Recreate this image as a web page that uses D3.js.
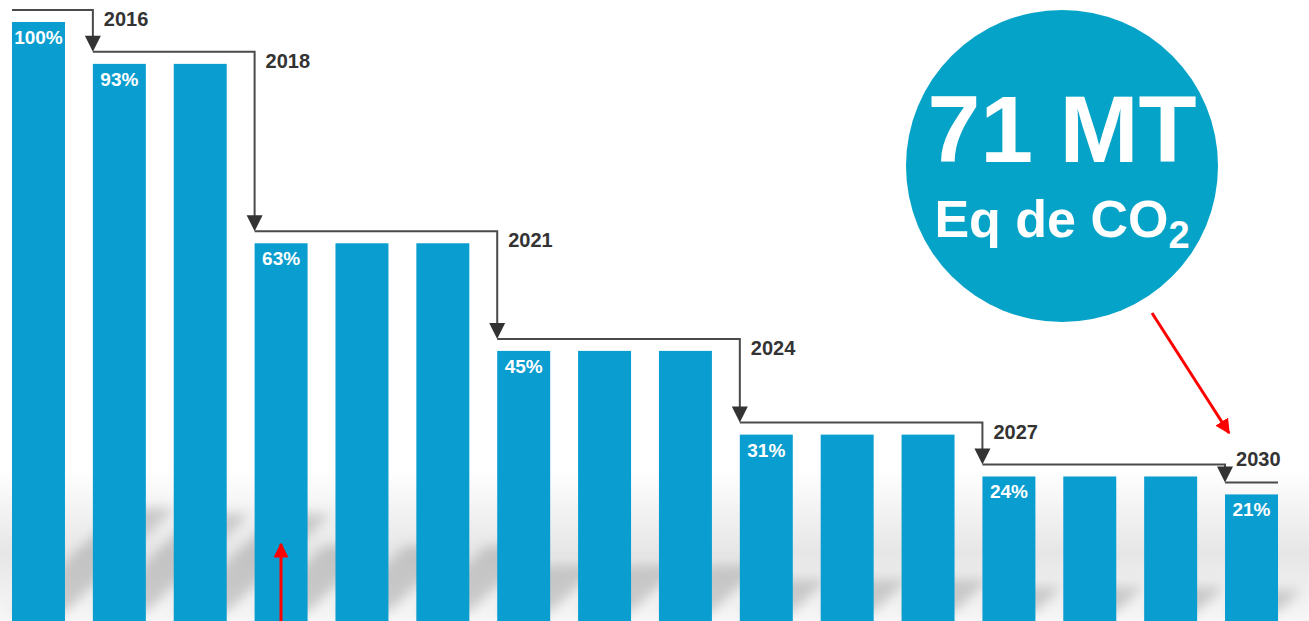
<!DOCTYPE html>
<html>
<head>
<meta charset="utf-8">
<script src="https://cdn.jsdelivr.net/npm/d3@7"></script>
<style>
  body { margin: 0; background: #fff; }
  svg { display: block; }
</style>
</head>
<body>
<div id="chart"></div>
<script>
// datos
const barras = [100, 93, 93, 63, 63, 63, 45, 45, 45, 31, 31, 31, 24, 24, 24, 21];
const pasos = [1, 3, 6, 9, 12, 15];            // barra donde empieza cada tramo
const anios = ["2016", "2018", "2021", "2024", "2027", "2030"];
const etiquetas = [0, 1, 3, 6, 9, 12, 15];     // barras con su %
const circuloTexto = ["71 MT", "Eq de CO", "2"];

const WIDTH = 1309;
const HEIGHT = 621;
const AZUL = "#0a9dcf";

const svg = d3.select("#chart").append("svg")
  .attr("width", WIDTH).attr("height", HEIGHT);

const x = d3.scaleBand()
  .domain(d3.range(barras.length))
  .range([12, 1278])
  .paddingInner(0.345)
  .paddingOuter(0);

const y = d3.scaleLinear().domain([0, 100]).range([620, 22]);

const defs = svg.append("defs");

// fondo gris abajo
const grad = defs.append("linearGradient").attr("id", "piso")
  .attr("x1", 0).attr("y1", 0).attr("x2", 0).attr("y2", 1);
grad.append("stop").attr("offset", "0%").attr("stop-color", "#fff");
grad.append("stop").attr("offset", "55%").attr("stop-color", "#e6e6e6");
grad.append("stop").attr("offset", "100%").attr("stop-color", "#f7f7f7");

defs.append("filter").attr("id", "blur")
  .attr("x", "-30%").attr("y", "-30%").attr("width", "160%").attr("height", "160%")
  .append("feGaussianBlur").attr("stdDeviation", 6);

defs.append("marker").attr("id", "flechaRoja")
  .attr("viewBox", "0 0 10 10").attr("refX", 9).attr("refY", 5)
  .attr("markerWidth", 5).attr("markerHeight", 5).attr("orient", "auto")
  .append("path").attr("d", "M0,0 L10,5 L0,10 Z").attr("fill", "#f00");

svg.append("rect")
  .attr("x", 0).attr("y", 470).attr("width", WIDTH).attr("height", HEIGHT - 470)
  .attr("fill", "url(#piso)");

// sombras diagonales
svg.append("g").attr("filter", "url(#blur)")
  .selectAll("path").data(barras).join("path")
  .attr("d", (d, i) => {
    const x0 = x(i), x1 = x(i) + x.bandwidth();
    const L = Math.min((620 - y(d)) * 0.22, 130);
    const dx = L * 0.85, dy = L * 0.8;
    return `M${x0},612 L${x1},612 L${x1 + dx},${612 - dy} L${x0 + dx},${612 - dy} Z`;
  })
  .attr("fill", "#8c8c8c")
  .attr("opacity", 0.4);

// barras
svg.append("g").selectAll("rect").data(barras).join("rect")
  .attr("x", (d, i) => x(i))
  .attr("y", d => y(d))
  .attr("width", x.bandwidth())
  .attr("height", d => 620 - y(d) + 1)
  .attr("fill", AZUL);

svg.append("g").selectAll("text").data(etiquetas).join("text")
  .attr("x", i => x(i) + x.bandwidth() / 2)
  .attr("y", i => y(barras[i]) + 22)
  .attr("text-anchor", "middle")
  .attr("font-family", "Liberation Sans, Arial, sans-serif")
  .attr("font-weight", "bold")
  .attr("font-size", 19)
  .attr("fill", "#fff")
  .text(i => barras[i] + "%");

// escalones con flechas
const nivel = i => y(barras[i]) - 12;
const esc = svg.append("g");
pasos.forEach((i, k) => {
  const prev = k === 0 ? 0 : pasos[k - 1];
  const yA = nivel(prev), yB = nivel(i);
  esc.append("path")
    .attr("d", `M${x(prev)},${yA} H${x(i)} V${yB - 12}`)
    .attr("fill", "none")
    .attr("stroke", "#4a4a4a")
    .attr("stroke-width", 2);
  esc.append("path")
    .attr("d", `M${x(i) - 8},${yB - 16} L${x(i) + 8},${yB - 16} L${x(i)},${yB} Z`)
    .attr("fill", "#333");
  const ultimo = k === pasos.length - 1;
  esc.append("text")
    .attr("x", x(i) + 11)
    .attr("y", ultimo ? yA + 2 : yA + 16)
    .attr("font-family", "Liberation Sans, Arial, sans-serif")
    .attr("font-weight", "bold")
    .attr("font-size", 20)
    .attr("fill", "#333")
    .text(anios[k]);
  if (ultimo) {
    esc.append("line")
      .attr("x1", x(i)).attr("x2", x(i) + x.bandwidth())
      .attr("y1", yB).attr("y2", yB)
      .attr("stroke", "#4a4a4a").attr("stroke-width", 2);
  }
});

// circulo
const cx = 1062, cy = 166, r = 156;
svg.append("circle").attr("cx", cx).attr("cy", cy).attr("r", r).attr("fill", "#06a3c8");
svg.append("text")
  .attr("x", cx).attr("y", 162)
  .attr("text-anchor", "middle")
  .attr("font-family", "Liberation Sans, Arial, sans-serif")
  .attr("font-weight", "bold").attr("font-size", 95)
  .attr("fill", "#fff")
  .text(circuloTexto[0]);
const t2 = svg.append("text")
  .attr("x", cx).attr("y", 237)
  .attr("text-anchor", "middle")
  .attr("font-family", "Liberation Sans, Arial, sans-serif")
  .attr("font-weight", "bold").attr("font-size", 52)
  .attr("fill", "#fff");
t2.append("tspan").text(circuloTexto[1]);
t2.append("tspan").attr("font-size", 38).attr("dy", 11).text(circuloTexto[2]);

// flechas rojas
svg.append("line")
  .attr("x1", 1152).attr("y1", 313).attr("x2", 1229).attr("y2", 433)
  .attr("stroke", "#f00").attr("stroke-width", 3)
  .attr("marker-end", "url(#flechaRoja)");
svg.append("line")
  .attr("x1", 281).attr("y1", 622).attr("x2", 281).attr("y2", 544)
  .attr("stroke", "#f00").attr("stroke-width", 3)
  .attr("marker-end", "url(#flechaRoja)");
</script>
</body>
</html>
